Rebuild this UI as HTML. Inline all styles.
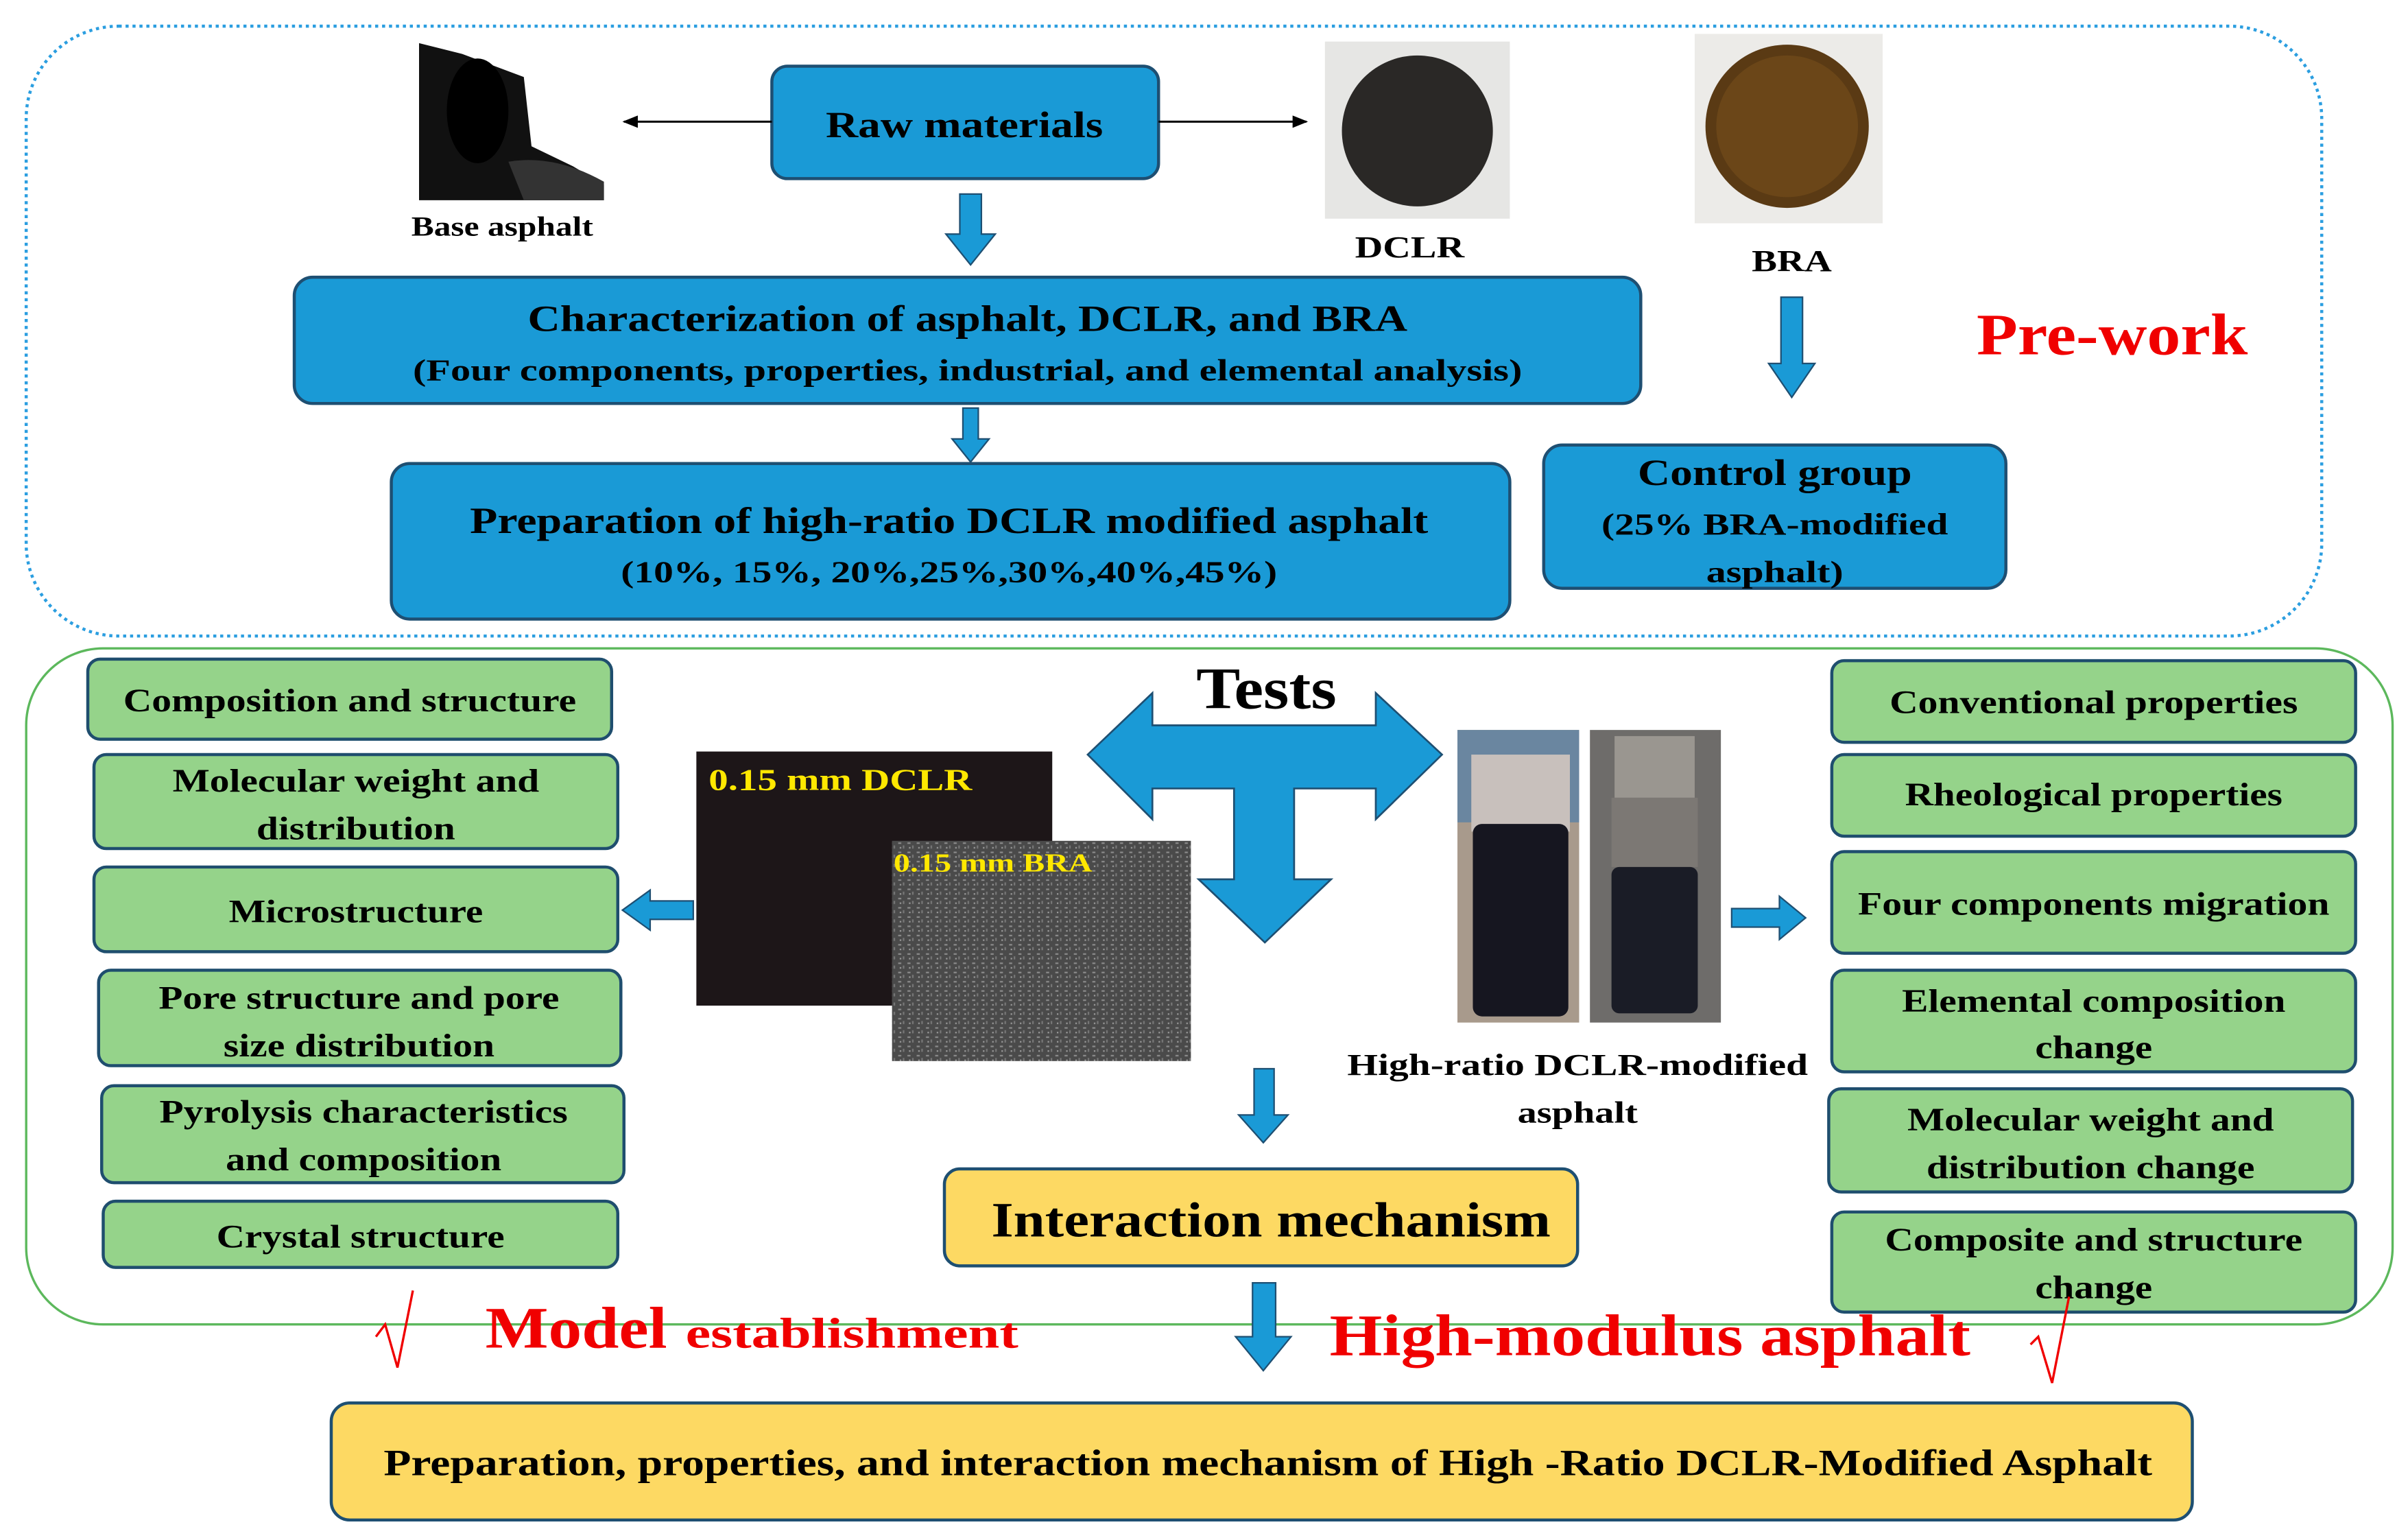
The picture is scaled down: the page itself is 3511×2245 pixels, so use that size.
<!DOCTYPE html>
<html><head><meta charset="utf-8"><style>
html,body{margin:0;padding:0;background:#fff;}
svg{display:block;}
text{font-family:"Liberation Serif",serif;font-weight:bold;}
</style></head><body>
<svg width="3511" height="2245" viewBox="0 0 1563 1000" preserveAspectRatio="none" xmlns="http://www.w3.org/2000/svg">
<defs>
<marker id="ah" markerWidth="10" markerHeight="10" refX="9" refY="5" orient="auto" markerUnits="userSpaceOnUse"><path d="M0,1 L10,5 L0,9 Z" fill="#000"/></marker>
<pattern id="noise" width="6" height="6" patternUnits="userSpaceOnUse"><rect width="6" height="6" fill="#4a4a4a"/><rect x="1" y="1" width="2" height="1" fill="#8a8a8a"/><rect x="4" y="3" width="1" height="2" fill="#777"/><rect x="2" y="4" width="1" height="1" fill="#999"/></pattern>
</defs>
<rect x="17" y="17" width="1490" height="396" rx="60" fill="none" stroke="#2b9ee0" stroke-width="2" stroke-dasharray="2,2.5"/>
<rect x="17" y="421" width="1536" height="439" rx="50" fill="none" stroke="#5cb85c" stroke-width="1.5"/>

<rect x="501" y="43" width="251" height="73" rx="10" fill="#1a9ad6" stroke="#1e4f72" stroke-width="2"/>
<text x="626" y="89" font-size="24" text-anchor="middle" textLength="180" lengthAdjust="spacingAndGlyphs">Raw materials</text>
<line x1="501" y1="79" x2="405" y2="79" stroke="#000" stroke-width="1.3" marker-end="url(#ah)"/>
<line x1="752" y1="79" x2="848" y2="79" stroke="#000" stroke-width="1.3" marker-end="url(#ah)"/>

<g>
<path d="M272,28 L300,35 L340,50 L345,95 L372,108 L392,120 L392,130 L272,130 Z" fill="#111"/>
<ellipse cx="310" cy="72" rx="20" ry="34" fill="#000"/>
<path d="M330,105 Q360,100 392,118 L392,130 L340,130 Z" fill="#333"/>
</g>
<text x="326" y="153" font-size="18" text-anchor="middle" textLength="118" lengthAdjust="spacingAndGlyphs">Base asphalt</text>

<rect x="860" y="27" width="120" height="115" fill="#e6e6e4"/>
<circle cx="920" cy="85" r="49" fill="#2a2826"/>
<text x="915" y="167" font-size="20" text-anchor="middle" textLength="71" lengthAdjust="spacingAndGlyphs">DCLR</text>
<rect x="1100" y="22" width="122" height="123" fill="#ecebe8"/>
<circle cx="1160" cy="82" r="53" fill="#5a3a14"/>
<circle cx="1160" cy="82" r="46" fill="#6b4618"/>
<text x="1163" y="176" font-size="20" text-anchor="middle" textLength="52" lengthAdjust="spacingAndGlyphs">BRA</text>

<path d="M623,126 L637,126 L637,152 L646,152 L630,172 L614,152 L623,152 Z" fill="#1a9ad6" stroke="#1e4f72" stroke-width="1"/>
<path d="M625,265 L635,265 L635,285 L642,285 L630,300 L618,285 L625,285 Z" fill="#1a9ad6" stroke="#1e4f72" stroke-width="1"/>
<path d="M1156,193 L1170,193 L1170,236 L1178,236 L1163,258 L1148,236 L1156,236 Z" fill="#1a9ad6" stroke="#1e4f72" stroke-width="1"/>

<rect x="191" y="180" width="874" height="82" rx="12" fill="#1a9ad6" stroke="#1e4f72" stroke-width="2"/>
<text x="628" y="215" font-size="24" text-anchor="middle" textLength="571" lengthAdjust="spacingAndGlyphs">Characterization of asphalt, DCLR, and BRA</text>
<text x="628" y="247" font-size="20" text-anchor="middle" textLength="720" lengthAdjust="spacingAndGlyphs">(Four components, properties, industrial,  and elemental analysis)</text>

<rect x="254" y="301" width="726" height="101" rx="12" fill="#1a9ad6" stroke="#1e4f72" stroke-width="2"/>
<text x="616" y="346" font-size="24" text-anchor="middle" textLength="622" lengthAdjust="spacingAndGlyphs">Preparation of high-ratio DCLR modified asphalt</text>
<text x="616" y="378" font-size="20" text-anchor="middle" textLength="426" lengthAdjust="spacingAndGlyphs">(10%, 15%, 20%,25%,30%,40%,45%)</text>

<rect x="1002" y="289" width="300" height="93" rx="12" fill="#1a9ad6" stroke="#1e4f72" stroke-width="2"/>
<text x="1152" y="315" font-size="24" text-anchor="middle" textLength="178" lengthAdjust="spacingAndGlyphs">Control group</text>
<text x="1152" y="347" font-size="20" text-anchor="middle" textLength="225" lengthAdjust="spacingAndGlyphs">(25% BRA-modified</text>
<text x="1152" y="378" font-size="20" text-anchor="middle" textLength="89" lengthAdjust="spacingAndGlyphs">asphalt)</text>

<text x="1371" y="230" font-size="38" fill="#f00000" text-anchor="middle" textLength="176" lengthAdjust="spacingAndGlyphs">Pre-work</text>

<g fill="#95d38a" stroke="#1f4e6e" stroke-width="2">
<rect x="57" y="428" width="340" height="52" rx="8"/>
<rect x="61" y="490" width="340" height="61" rx="8"/>
<rect x="61" y="563" width="340" height="55" rx="8"/>
<rect x="64" y="630" width="339" height="62" rx="8"/>
<rect x="66" y="705" width="339" height="63" rx="8"/>
<rect x="67" y="780" width="334" height="43" rx="8"/>
<rect x="1189" y="429" width="340" height="53" rx="8"/>
<rect x="1189" y="490" width="340" height="53" rx="8"/>
<rect x="1189" y="553" width="340" height="66" rx="8"/>
<rect x="1189" y="630" width="340" height="66" rx="8"/>
<rect x="1187" y="707" width="340" height="67" rx="8"/>
<rect x="1189" y="787" width="340" height="65" rx="8"/>
</g>
<g font-size="21" text-anchor="middle">
<text x="227" y="462" textLength="294" lengthAdjust="spacingAndGlyphs">Composition and structure</text>
<text x="231" y="514" textLength="238" lengthAdjust="spacingAndGlyphs">Molecular weight and</text>
<text x="231" y="545" textLength="129" lengthAdjust="spacingAndGlyphs">distribution</text>
<text x="231" y="599" textLength="165" lengthAdjust="spacingAndGlyphs">Microstructure</text>
<text x="233" y="655" textLength="260" lengthAdjust="spacingAndGlyphs">Pore structure and pore</text>
<text x="233" y="686" textLength="176" lengthAdjust="spacingAndGlyphs">size distribution</text>
<text x="236" y="729" textLength="265" lengthAdjust="spacingAndGlyphs">Pyrolysis characteristics</text>
<text x="236" y="760" textLength="179" lengthAdjust="spacingAndGlyphs">and composition</text>
<text x="234" y="810" textLength="187" lengthAdjust="spacingAndGlyphs">Crystal structure</text>
<text x="1359" y="463" textLength="265" lengthAdjust="spacingAndGlyphs">Conventional properties</text>
<text x="1359" y="523" textLength="245" lengthAdjust="spacingAndGlyphs">Rheological properties</text>
<text x="1359" y="594" textLength="306" lengthAdjust="spacingAndGlyphs">Four components migration</text>
<text x="1359" y="657" textLength="249" lengthAdjust="spacingAndGlyphs">Elemental composition</text>
<text x="1359" y="687" textLength="76" lengthAdjust="spacingAndGlyphs">change</text>
<text x="1357" y="734" textLength="238" lengthAdjust="spacingAndGlyphs">Molecular weight and</text>
<text x="1357" y="765" textLength="213" lengthAdjust="spacingAndGlyphs">distribution change</text>
<text x="1359" y="812" textLength="271" lengthAdjust="spacingAndGlyphs">Composite and structure</text>
<text x="1359" y="843" textLength="76" lengthAdjust="spacingAndGlyphs">change</text>
</g>

<text x="822" y="460" font-size="38" text-anchor="middle" textLength="91" lengthAdjust="spacingAndGlyphs">Tests</text>
<path d="M706,490 L748,450 L748,471 L893,471 L893,450 L936,490 L893,532 L893,512 L840,512 L840,571 L864,571 L821,612 L778,571 L801,571 L801,512 L748,512 L748,532 Z" fill="#1a9ad6" stroke="#1e4f72" stroke-width="1.2"/>

<rect x="452" y="488" width="231" height="165" fill="#1d1618"/>
<text x="460" y="513" font-size="20" fill="#ffe800" textLength="171" lengthAdjust="spacingAndGlyphs">0.15 mm DCLR</text>
<rect x="579" y="546" width="194" height="143" fill="url(#noise)"/>
<text x="580" y="566" font-size="17" fill="#ffe800" textLength="129" lengthAdjust="spacingAndGlyphs">0.15 mm BRA</text>

<path d="M450,585 L422,585 L422,578 L404,591 L422,604 L422,597 L450,597 Z" fill="#1a9ad6" stroke="#1e4f72" stroke-width="1"/>
<path d="M1124,590 L1155,590 L1155,582 L1172,596 L1155,610 L1155,602 L1124,602 Z" fill="#1a9ad6" stroke="#1e4f72" stroke-width="1"/>

<rect x="946" y="474" width="79" height="190" fill="#a89a8c"/>
<rect x="946" y="474" width="79" height="60" fill="#6a86a0"/>
<rect x="955" y="490" width="64" height="50" fill="#c8c0bc"/>
<rect x="956" y="535" width="62" height="125" rx="6" fill="#161620"/>
<rect x="1032" y="474" width="85" height="190" fill="#6e6c6a"/>
<rect x="1048" y="478" width="52" height="40" fill="#9a9690"/>
<rect x="1046" y="518" width="56" height="45" fill="#7c7874"/>
<rect x="1046" y="563" width="56" height="95" rx="5" fill="#1a1c26"/>
<text x="1024" y="698" font-size="20" text-anchor="middle" textLength="299" lengthAdjust="spacingAndGlyphs">High-ratio DCLR-modified</text>
<text x="1024" y="729" font-size="20" text-anchor="middle" textLength="78" lengthAdjust="spacingAndGlyphs">asphalt</text>

<path d="M814,694 L827,694 L827,724 L836,724 L820,742 L804,724 L814,724 Z" fill="#1a9ad6" stroke="#1e4f72" stroke-width="1"/>
<rect x="613" y="759" width="411" height="63" rx="10" fill="#fdd963" stroke="#1e4f72" stroke-width="2"/>
<text x="825" y="803" font-size="32" text-anchor="middle" textLength="363" lengthAdjust="spacingAndGlyphs">Interaction mechanism</text>

<path d="M813,833 L828,833 L828,868 L838,868 L820,890 L802,868 L813,868 Z" fill="#1a9ad6" stroke="#1e4f72" stroke-width="1"/>

<text x="315" y="875" font-size="38" fill="#f00000" textLength="118" lengthAdjust="spacingAndGlyphs">Model</text>
<text x="445" y="875" font-size="28" fill="#f00000" textLength="216" lengthAdjust="spacingAndGlyphs">establishment</text>
<text x="863" y="880" font-size="38" fill="#f00000" textLength="416" lengthAdjust="spacingAndGlyphs">High-modulus asphalt</text>
<path d="M244,868 L250,860 L258,888 L268,838" fill="none" stroke="#f00000" stroke-width="1.5"/>
<path d="M1318,873 L1323,868 L1332,898 L1343,842" fill="none" stroke="#f00000" stroke-width="1.5"/>

<rect x="215" y="911" width="1208" height="76" rx="12" fill="#fdd963" stroke="#1e4f72" stroke-width="2"/>
<text x="823" y="958" font-size="24" text-anchor="middle" textLength="1148" lengthAdjust="spacingAndGlyphs">Preparation, properties, and interaction mechanism of High -Ratio DCLR-Modified Asphalt</text>
</svg>
</body></html>
